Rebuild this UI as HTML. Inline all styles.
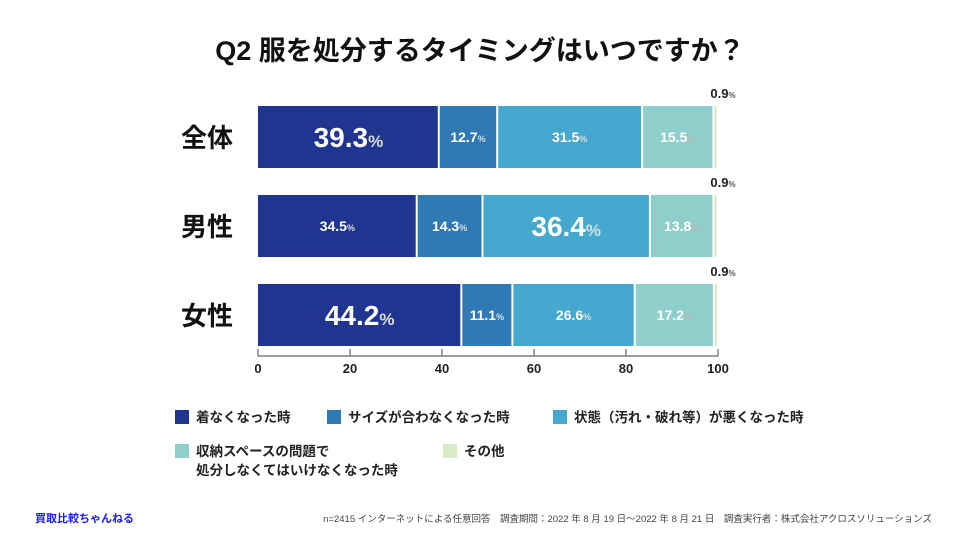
<!DOCTYPE html>
<html><head><meta charset="utf-8"><style>
body{margin:0;background:#fff;width:960px;height:540px;overflow:hidden;font-family:"Liberation Sans","Noto Sans CJK JP",sans-serif}
svg text{font-family:"Liberation Sans","Noto Sans CJK JP",sans-serif}
</style></head><body>
<svg id="c" width="960" height="540">
<text x="480" y="60" text-anchor="middle" font-size="27" font-weight="bold" fill="#111">Q2 服を処分するタイミングはいつですか？</text>
<g id="bars"></g>
<g id="axis"></g>
<g id="legend"></g>
<text x="35" y="522" font-size="11" font-weight="bold" fill="#1a1aff">買取比較ちゃんねる</text>
<text x="932" y="522" text-anchor="end" font-size="9.5" fill="#444">n=2415 インターネットによる任意回答　調査期間：2022 年 8 月 19 日〜2022 年 8 月 21 日　調査実行者：株式会社アクロスソリューションズ</text>
</svg>
<script>
const categories=["全体","男性","女性"];
const seriesNames=["着なくなった時","サイズが合わなくなった時","状態（汚れ・破れ等）が悪くなった時","収納スペースの問題で|処分しなくてはいけなくなった時","その他"];
const s1=[39.3,34.5,44.2];
const s2=[12.7,14.3,11.1];
const s3=[31.5,36.4,26.6];
const s4=[15.5,13.8,17.2];
const s5=[0.9,0.9,0.9];
const ticks=[0,20,40,60,80,100];
const series=[s1,s2,s3,s4,s5];
const colors=["#1f3590","#2f7ab5","#45a8cf","#8ecfcc","#d6ecc6"];
const NS="http://www.w3.org/2000/svg";
const x=v=>258+v*4.6;
const rowY=i=>106+i*89;
const barH=62;
function mk(t,a,p){const e=document.createElementNS(NS,t);for(const k in a)e.setAttribute(k,a[k]);p.appendChild(e);return e;}
const bars=document.getElementById('bars');
categories.forEach((c,i)=>{
  const y=rowY(i);
  const t=mk('text',{x:233,y:y+barH/2+10,'text-anchor':'end','font-size':26,'font-weight':'bold',fill:'#111'},bars);
  t.textContent=c;
  
  
  let cum=0;
  const maxV=Math.max(...series.slice(0,4).map(s=>s[i]));
  series.forEach((s,j)=>{
    const v=s[i];
    const r=mk('rect',{x:x(cum)+(j?1:0),y:y,width:Math.max(0.8,x(cum+v)-x(cum)-(j?2:1)),height:barH,fill:colors[j]},bars);
    
    
    const big=v===maxV;
    if(j<4){
      const lt=mk('text',{x:x(cum+v/2),y:y+barH/2+(big?10:5),'text-anchor':'middle','font-size':big?28:14,'font-weight':'bold',fill:'#fff'},bars);
      lt.innerHTML=v.toFixed(1)+'<tspan font-size="'+(big?17:9)+'" fill="'+(j==3?'#b8b8b8':'#ddd')+'">%</tspan>';
      
      
    }else{
      const lt=mk('text',{x:x(100)+5,y:y-8,'text-anchor':'middle','font-size':13,'font-weight':'bold',fill:'#222'},bars);
      lt.innerHTML=v.toFixed(1)+'<tspan font-size="8" fill="#555">%</tspan>';
      
      
    }
    cum+=v;
  });
});
const ax=document.getElementById('axis');
const al=mk('line',{x1:x(0),x2:x(100),y1:356,y2:356,stroke:'#666','stroke-width':1.2},ax);


ticks.forEach(t=>{
  const tl=mk('line',{x1:x(t),x2:x(t),y1:349,y2:356,stroke:'#666','stroke-width':1.2},ax);
  
  
  const tt=mk('text',{x:x(t),y:373,'text-anchor':'middle','font-size':13,'font-weight':'bold',fill:'#222'},ax);
  tt.textContent=t;
  
  
});
const lg=document.getElementById('legend');
const pos=[[175,410],[327,410],[553,410],[175,444],[443,444]];
seriesNames.forEach((n,j)=>{
  const [lx,ly]=pos[j];
  const r=mk('rect',{x:lx,y:ly,width:14,height:14,fill:colors[j]},lg);
  
  
  n.split('|').forEach((line,k)=>{
    const t=mk('text',{x:lx+21,y:ly+12+k*19,'font-size':13.5,'font-weight':'bold',fill:'#222'},lg);
    t.textContent=line;
    
    
  });
});
</script>
</body></html>
